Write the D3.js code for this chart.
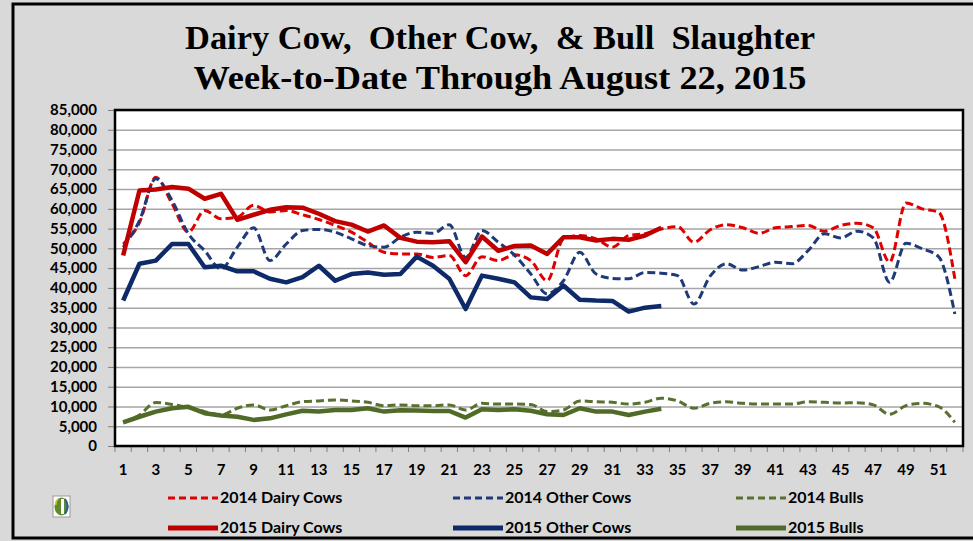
<!DOCTYPE html>
<html>
<head>
<meta charset="utf-8">
<script src="https://cdn.jsdelivr.net/npm/d3@7"></script>
<style>
  body { margin: 0; background: #d9d9d9; }
  svg { display: block; }
</style>
</head>
<body>
<svg id="chart"></svg>
<script>
// weekly head counts
var weeks = d3.range(1, 53);
var dairy2014 = [51100, 56500, 68000, 61300, 54100, 59600, 57500, 57900, 60900, 59200, 59600, 58500, 57300,
  55800, 54100, 51550, 49000, 48600, 48600, 47700, 48200, 43100, 47900, 46900, 48400, 46900, 41800, 52400,
  53250, 52400, 50300, 53250, 53700, 54900, 55500, 51550, 54700, 56000, 55200, 53800, 55200, 55500, 55800,
  54350, 55800, 56350, 55200, 46500, 61450, 60000, 59150, 42300];
var other2014 = [50300, 57000, 67600, 62100, 53700, 49400, 44800, 50300, 55200, 46900, 51100, 54500, 54800,
  54100, 52400, 50700, 50300, 52800, 54100, 53800, 56000, 47700, 54500, 51550, 48300, 43500, 38500, 41800,
  49000, 43500, 42400, 42300, 43900, 43700, 43100, 35900, 43000, 46100, 44500, 45400, 46500, 46100, 49400,
  53700, 52650, 54350, 52650, 41400, 51300, 49900, 47900, 33400];
var bulls2014 = [6000, 7850, 11000, 10500, 9700, 8700, 7850, 9550, 10400, 9100, 10200, 11200, 11400,
  11650, 11400, 11050, 10200, 10400, 10200, 10200, 10400, 9100, 10800, 10600, 10600, 10500, 8700, 9100,
  11400, 11200, 11050, 10600, 11050, 12100, 11400, 9550, 10800, 11200, 10800, 10600, 10600, 10600, 11200,
  11050, 10900, 10950, 10400, 8000, 10200, 10800, 9950, 6000];
var dairy2015 = [48200, 64650, 64900, 65500, 65100, 62550, 63800, 57200, 58500, 59750, 60400, 60300, 58750,
  56900, 56000, 54250, 55800, 52650, 51700, 51550, 51800, 46500, 53000, 49400, 50600, 50700, 48600, 52800,
  52800, 52000, 52400, 52150, 53250, 55200];
var other2015 = [36800, 46100, 46900, 51100, 51100, 45200, 45600, 44200, 44200, 42300, 41400, 42700, 45600,
  41800, 43500, 43900, 43300, 43500, 47900, 45600, 42300, 34650, 43100, 42300, 41400, 37600, 37200, 40600,
  37000, 36800, 36700, 34000, 35000, 35400];
var bulls2015 = [6000, 7400, 8700, 9550, 9900, 8300, 7700, 7400, 6600, 7000, 8000, 8900, 8700,
  9100, 9100, 9550, 8700, 9050, 8950, 8850, 8850, 7200, 9300, 9100, 9300, 8900, 8050, 7850,
  9550, 8700, 8700, 7850, 8700, 9400];
var xLabels = d3.range(1, 53, 2);
var yTicks = d3.range(0, 85001, 5000);

var width = 973, height = 541;
var plot = { left: 115, right: 963, top: 110, bottom: 446 };

var series = [
  { name: '2014 Dairy Cows', values: dairy2014, color: '#e00000', dashed: true },
  { name: '2014 Other Cows', values: other2014, color: '#1f3a78', dashed: true },
  { name: '2014 Bulls', values: bulls2014, color: '#5a7030', dashed: true },
  { name: '2015 Dairy Cows', values: dairy2015, color: '#c00000', dashed: false },
  { name: '2015 Other Cows', values: other2015, color: '#0f2a68', dashed: false },
  { name: '2015 Bulls', values: bulls2015, color: '#506a28', dashed: false }
];

var svg = d3.select('#chart').attr('width', width).attr('height', height);

// outer frame
svg.append('rect')
  .attr('x', 13).attr('y', 4).attr('width', 975).attr('height', 534)
  .attr('fill', '#d9d9d9').attr('stroke', '#000').attr('stroke-width', 3);

// title
var title = [
  { text: 'Dairy Cow,  Other Cow,  & Bull  Slaughter', y: 49, len: 630 },
  { text: 'Week-to-Date Through August 22, 2015', y: 89, len: 613 }
];
svg.selectAll('.title').data(title).enter().append('text')
  .attr('class', 'title')
  .attr('x', 500).attr('y', d => d.y)
  .attr('text-anchor', 'middle')
  .attr('textLength', d => d.len)
  .attr('lengthAdjust', 'spacingAndGlyphs')
  .style('white-space', 'pre')
  .style('font-family', '"Liberation Serif", serif')
  .style('font-weight', 'bold')
  .style('font-size', '33px')
  .attr('fill', '#000')
  .text(d => d.text);

var x = d3.scaleBand().domain(weeks).range([plot.left, plot.right]);
var y = d3.scaleLinear().domain([0, 85000]).range([plot.bottom, plot.top]);
var cx = d => x(d) + x.bandwidth() / 2;

// plot area
svg.append('rect')
  .attr('x', plot.left).attr('y', plot.top)
  .attr('width', plot.right - plot.left).attr('height', plot.bottom - plot.top)
  .attr('fill', '#fff');

// gridlines
svg.append('g')
  .attr('transform', 'translate(' + plot.left + ',0)')
  .call(d3.axisLeft(y).tickValues(yTicks).tickSize(-(plot.right - plot.left)).tickFormat(''))
  .call(g => g.select('.domain').remove())
  .call(g => g.selectAll('line').attr('stroke', '#a6a6a6').attr('stroke-width', 1.5));

// y axis
svg.append('g')
  .attr('transform', 'translate(' + plot.left + ',0)')
  .call(d3.axisLeft(y).tickValues(yTicks).tickSize(7).tickPadding(11).tickFormat(d3.format(',')))
  .call(g => g.select('.domain').remove())
  .call(g => g.selectAll('line').attr('stroke', '#808080'))
  .call(g => g.selectAll('text')
    .style('font-family', 'Lato, sans-serif')
    .style('font-weight', 'bold')
    .style('font-size', '15px')
    .attr('fill', '#000'));

// x axis tick marks at category edges
svg.append('g').selectAll('line')
  .data(weeks.concat([53]))
  .enter().append('line')
  .attr('x1', d => d === 53 ? plot.right : x(d))
  .attr('x2', d => d === 53 ? plot.right : x(d))
  .attr('y1', plot.bottom).attr('y2', plot.bottom + 6)
  .attr('stroke', '#808080').attr('stroke-width', 1);

svg.append('g')
  .attr('transform', 'translate(0,' + plot.bottom + ')')
  .call(d3.axisBottom(x).tickValues(xLabels).tickSize(0).tickPadding(18))
  .call(g => g.select('.domain').remove())
  .call(g => g.selectAll('text')
    .style('font-family', 'Lato, sans-serif')
    .style('font-weight', 'bold')
    .style('font-size', '15px')
    .attr('fill', '#000'));

// lines
var line = d3.line()
  .x((d, i) => cx(weeks[i]))
  .y(d => y(d));
var smooth = d3.line()
  .x((d, i) => cx(weeks[i]))
  .y(d => y(d))
  .curve(d3.curveMonotoneX);

series.forEach(function (s) {
  svg.append('path')
    .datum(s.values)
    .attr('d', s.dashed ? smooth : line)
    .attr('fill', 'none')
    .attr('stroke', s.color)
    .attr('stroke-width', s.dashed ? 3 : 4.5)
    .attr('stroke-linejoin', 'round')
    .attr('stroke-dasharray', s.dashed ? '8,4' : null);
});

// plot border
svg.append('rect')
  .attr('x', plot.left).attr('y', plot.top)
  .attr('width', plot.right - plot.left).attr('height', plot.bottom - plot.top)
  .attr('fill', 'none').attr('stroke', '#000').attr('stroke-width', 2.5);

// legend
var legendCols = [168, 453, 736];
var legendRows = [498, 528];
var legend = svg.append('g').selectAll('g')
  .data(series)
  .enter().append('g')
  .attr('transform', (d, i) => 'translate(' + legendCols[i % 3] + ',' + legendRows[Math.floor(i / 3)] + ')');

legend.append('line')
  .attr('x1', 0).attr('x2', 50).attr('y1', 0).attr('y2', 0)
  .attr('stroke', d => d.color)
  .attr('stroke-width', d => d.dashed ? 3 : 5)
  .attr('stroke-dasharray', d => d.dashed ? '7,4' : null);

legend.append('text')
  .attr('x', 52).attr('y', 5)
  .style('font-family', 'Lato, sans-serif')
  .style('font-weight', 'bold')
  .style('font-size', '16px')
  .attr('fill', '#000')
  .text(d => d.name);

// small logo
var logo = svg.append('g').attr('transform', 'translate(53,496)');
logo.append('rect').attr('width', 17).attr('height', 21).attr('fill', '#fff').attr('stroke', '#999');
logo.append('ellipse').attr('cx', 8.5).attr('cy', 10.5).attr('rx', 7).attr('ry', 9).attr('fill', '#5e8a2e');
logo.append('rect').attr('x', 8).attr('y', 3).attr('width', 3).attr('height', 15).attr('fill', '#fff');
logo.append('path').attr('d', 'M12,3 Q17,10 12,18').attr('fill', 'none').attr('stroke', '#2a5aa8').attr('stroke-width', 2);
logo.append('path').attr('d', 'M5,3 Q2,6 3,9').attr('fill', 'none').attr('stroke', '#e8c020').attr('stroke-width', 1.5);
</script>
</body>
</html>
